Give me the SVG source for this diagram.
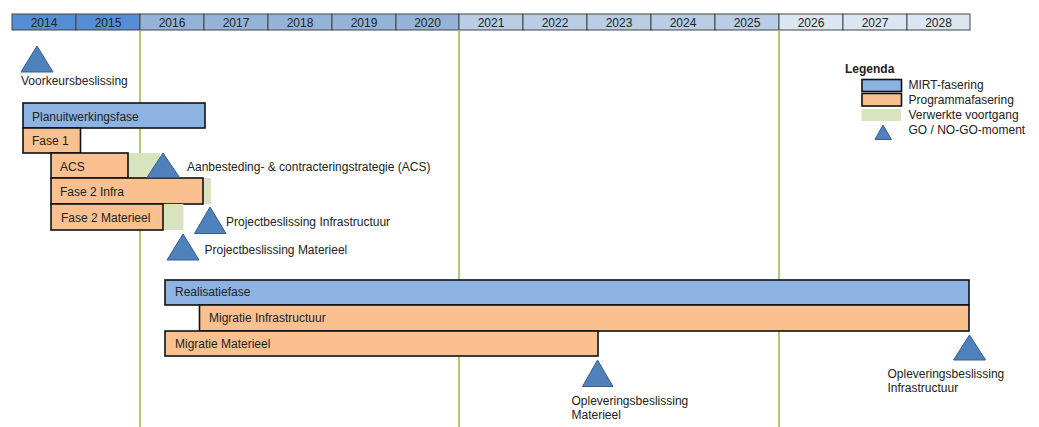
<svg xmlns="http://www.w3.org/2000/svg" width="1039" height="427" viewBox="0 0 1039 427">
<style>
text{font-family:"Liberation Sans",Arial,sans-serif;font-size:12px;fill:#222;}
.yr{text-anchor:middle;}
.hc{stroke:#444;stroke-width:1;}
.y1{fill:#558ED5;}.y2{fill:#95B3D7;}.y3{fill:#B9CDE5;}.y4{fill:#DCE6F2;}
.mirt{fill:#8DB3E2;stroke:#111;stroke-width:1.6;}
.prog{fill:#FAC090;stroke:#111;stroke-width:1.6;}
.done{fill:#D7E4BD;}
.tri{fill:#4F81BD;stroke:#385D8A;stroke-width:1;}
.gl{stroke:#9BBB59;stroke-width:1.6;}
</style>
<rect width="1039" height="427" fill="#fff"/>
<g id="header">
<rect class="hc y1" x="12" y="14" width="64" height="16"/>
<rect class="hc y1" x="76" y="14" width="64" height="16"/>
<rect class="hc y2" x="140" y="14" width="64" height="16"/>
<rect class="hc y2" x="204" y="14" width="64" height="16"/>
<rect class="hc y2" x="268" y="14" width="64" height="16"/>
<rect class="hc y2" x="332" y="14" width="64" height="16"/>
<rect class="hc y2" x="396" y="14" width="63" height="16"/>
<rect class="hc y3" x="459" y="14" width="64" height="16"/>
<rect class="hc y3" x="523" y="14" width="64" height="16"/>
<rect class="hc y3" x="587" y="14" width="64" height="16"/>
<rect class="hc y3" x="651" y="14" width="64" height="16"/>
<rect class="hc y3" x="715" y="14" width="64" height="16"/>
<rect class="hc y4" x="779" y="14" width="64" height="16"/>
<rect class="hc y4" x="843" y="14" width="64" height="16"/>
<rect class="hc y4" x="907" y="14" width="63" height="16"/>
<text class="yr" x="44" y="26.5">2014</text>
<text class="yr" x="108" y="26.5">2015</text>
<text class="yr" x="172" y="26.5">2016</text>
<text class="yr" x="236" y="26.5">2017</text>
<text class="yr" x="300" y="26.5">2018</text>
<text class="yr" x="364" y="26.5">2019</text>
<text class="yr" x="427.5" y="26.5">2020</text>
<text class="yr" x="491" y="26.5">2021</text>
<text class="yr" x="555" y="26.5">2022</text>
<text class="yr" x="619" y="26.5">2023</text>
<text class="yr" x="683" y="26.5">2024</text>
<text class="yr" x="747" y="26.5">2025</text>
<text class="yr" x="811" y="26.5">2026</text>
<text class="yr" x="875" y="26.5">2027</text>
<text class="yr" x="938.5" y="26.5">2028</text>
</g>
<g id="connectors">
<line class="gl" x1="140" y1="30" x2="140" y2="427"/>
<line class="gl" x1="459" y1="30" x2="459" y2="427"/>
<line class="gl" x1="779" y1="30" x2="779" y2="427"/>
</g>
<g id="voorkeursbeslissing">
<polygon class="tri" points="37,46 21,72 53,72"/>
<text x="21" y="84.5">Voorkeursbeslissing</text>
</g>
<g id="planuitwerkingsfase">
<rect class="mirt" x="23" y="103" width="182" height="25"/>
<text x="32" y="120.5">Planuitwerkingsfase</text>
</g>
<g id="fase1">
<rect class="prog" x="23" y="128" width="57.5" height="25"/>
<text x="32" y="145">Fase 1</text>
</g>
<g id="acs">
<rect class="done" x="128" y="153" width="32" height="25"/>
<rect class="prog" x="51" y="153" width="77" height="25"/>
<text x="60" y="170.5">ACS</text>
</g>
<g id="fase2infra">
<rect class="done" x="203" y="178" width="8" height="26"/>
<rect class="prog" x="51" y="178" width="152" height="26"/>
<text x="60" y="195.5">Fase 2 Infra</text>
</g>
<g id="fase2materieel">
<rect class="done" x="163" y="204" width="20.5" height="26"/>
<rect class="prog" x="51" y="204" width="112" height="26"/>
<text x="61" y="222">Fase 2 Materieel</text>
</g>
<g id="acs-beslissing">
<polygon class="tri" points="163,153 147,177.5 179.5,177.5"/>
<text x="187" y="171">Aanbesteding- &amp; contracteringstrategie (ACS)</text>
</g>
<g id="projectbeslissing-infra">
<polygon class="tri" points="210,207 194.5,233.5 226,233.5"/>
<text x="226" y="226">Projectbeslissing Infrastructuur</text>
</g>
<g id="projectbeslissing-materieel">
<polygon class="tri" points="183,234 167,260 199,260"/>
<text x="204.5" y="254">Projectbeslissing Materieel</text>
</g>
<g id="realisatiefase">
<rect class="mirt" x="165" y="280" width="804" height="25"/>
<text x="175" y="296">Realisatiefase</text>
</g>
<g id="migratie-infra">
<rect class="prog" x="199.5" y="305" width="769.5" height="26"/>
<text x="209" y="322">Migratie Infrastructuur</text>
</g>
<g id="migratie-materieel">
<rect class="prog" x="165" y="331" width="433" height="25"/>
<text x="175" y="347.5">Migratie Materieel</text>
</g>
<g id="oplevering-materieel">
<polygon class="tri" points="597.5,360 582.5,386.5 613,386.5"/>
<text x="571.5" y="404.5">Opleveringsbeslissing</text>
<text x="571.5" y="419">Materieel</text>
</g>
<g id="oplevering-infra">
<polygon class="tri" points="969.5,335 953.5,360 985.5,360"/>
<text x="887.5" y="377.5">Opleveringsbeslissing</text>
<text x="887.5" y="391.5">Infrastructuur</text>
</g>
<g id="legenda">
<text x="845" y="72.5" style="font-weight:bold">Legenda</text>
<rect class="mirt" x="862" y="79.5" width="39.5" height="12"/>
<rect class="prog" x="862" y="93.5" width="39.5" height="12.5"/>
<rect class="done" x="861.5" y="109" width="39.5" height="12"/>
<polygon class="tri" points="883,125 875,139.5 891.5,139.5"/>
<text x="908.5" y="88.5">MIRT-fasering</text>
<text x="908.5" y="104">Programmafasering</text>
<text x="908.5" y="119">Verwerkte voortgang</text>
<text x="908.5" y="134">GO / NO-GO-moment</text>
</g>
</svg>
